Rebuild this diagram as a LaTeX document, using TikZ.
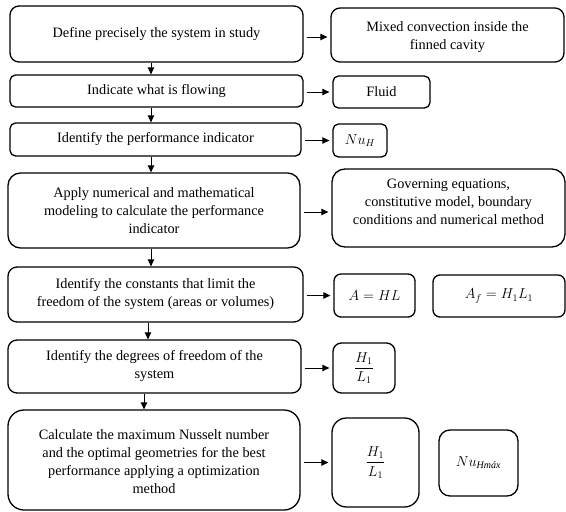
\documentclass[tikz,border=0pt]{standalone}
\usepackage{amsmath}
\usepackage{fontspec}
\setmainfont{Liberation Serif}
\usetikzlibrary{arrows.meta}
\newcommand{\liftlines}[2]{\raisebox{#1}[\height][\depth]{\begin{tabular}{@{}c@{}}#2\end{tabular}}}
\begin{document}
\begin{tikzpicture}[x=1pt,y=-1pt,
  box/.style={draw, line width=1.3pt, align=center, inner sep=0pt,
    font=\fontsize{14.3}{18}\selectfont},
  arr/.style={line width=0.9pt, -{Triangle[length=7pt,width=6.5pt]}},
  harr/.style={arr, shorten <=3pt, shorten >=3pt}]
\useasboundingbox (0,0) rectangle (566,512);
% left column
\node[box, minimum width=293pt, minimum height=56pt, rounded corners=9pt] (l1) at (156.5,34) {Define precisely the system in study};
\node[box, minimum width=293pt, minimum height=32pt, rounded corners=5.5pt] (l2) at (156.5,91) {Indicate what is flowing};
\node[box, minimum width=291pt, minimum height=33pt, rounded corners=5.5pt] (l3) at (155.5,139.5) {Identify the performance indicator};
\node[box, minimum width=292pt, minimum height=75pt, rounded corners=12.5pt] (l4) at (154,210.5) {Apply numerical and mathematical\\modeling to calculate the performance\\indicator};
\node[box, minimum width=295pt, minimum height=55pt, rounded corners=9pt] (l5) at (155.5,294.5) {Identify the constants that limit the\\freedom of the system (areas or volumes)};
\node[box, minimum width=293pt, minimum height=53pt, rounded corners=9pt] (l6) at (154.5,366.5) {Identify the degrees of freedom of the\\system};
\node[box, minimum width=292pt, minimum height=100pt, rounded corners=16pt] (l7) at (154,460) {\liftlines{-3pt}{Calculate the maximum Nusselt number\\and the optimal geometries for the best\\performance applying a optimization\\method}};
% right column
\node[box, minimum width=233pt, minimum height=54pt, rounded corners=9pt] (r1) at (447.5,35) {\liftlines{-2pt}{Mixed convection inside the\\finned cavity}};
\node[box, minimum width=97pt, minimum height=32pt, rounded corners=5.5pt] (r2) at (381.5,92) {Fluid};
\node[box, minimum width=54pt, minimum height=33pt, rounded corners=5.5pt] (r3) at (360,140.5) {$Nu_H$};
\node[box, minimum width=233pt, minimum height=78pt, rounded corners=13pt] (r4) at (448.5,208) {\liftlines{5pt}{Governing equations,\\constitutive model, boundary\\conditions and numerical method}};
\node[box, minimum width=81pt, minimum height=43pt, rounded corners=7pt] (r5a) at (374.5,295.5) {$A = HL$};
\node[box, minimum width=132pt, minimum height=42pt, rounded corners=7pt] (r5b) at (499,296) {$A_f = H_1L_1$};
\node[box, minimum width=62pt, minimum height=50pt, rounded corners=8.5pt] (r6) at (364,368) {$\dfrac{H_1}{L_1}$};
\node[box, minimum width=87pt, minimum height=89pt, rounded corners=14.5pt] (r7a) at (375.5,462.5) {$\dfrac{H_1}{L_1}$};
\node[box, minimum width=79pt, minimum height=66pt, rounded corners=11pt] (r7b) at (478.5,463) {$Nu_{\textit{Hmáx}}$};
% horizontal arrows
\draw[harr] ([yshift=-2pt]l1.east |- r1.west) -- ([yshift=-2pt]r1.west);
\draw[harr] (l2.east |- r2.west) -- (r2.west);
\draw[harr] (l3.east |- r3.west) -- (r3.west);
\draw[harr] ([yshift=-4pt]l4.east |- r4.west) -- ([yshift=-4pt]r4.west);
\draw[harr] (l5.east |- r5a.west) -- (r5a.west);
\draw[harr] (l6.east |- r6.west) -- (r6.west);
\draw[harr] (l7.east |- r7a.west) -- (r7a.west);
% vertical arrows
\draw[arr] ([xshift=-5.5pt]l1.south) -- ([xshift=-5.5pt]l1.south |- l2.north);
\draw[arr] ([xshift=-5.5pt]l2.south) -- ([xshift=-5.5pt]l2.south |- l3.north);
\draw[arr] ([xshift=-4.5pt]l3.south) -- ([xshift=-4.5pt]l3.south |- l4.north);
\draw[arr] ([xshift=-3pt]l4.south) -- ([xshift=-3pt]l4.south |- l5.north);
\draw[arr] ([xshift=-7.5pt]l5.south) -- ([xshift=-7.5pt]l5.south |- l6.north);
\draw[arr] ([xshift=-10.5pt]l6.south) -- ([xshift=-10.5pt]l6.south |- l7.north);
\end{tikzpicture}
\end{document}
